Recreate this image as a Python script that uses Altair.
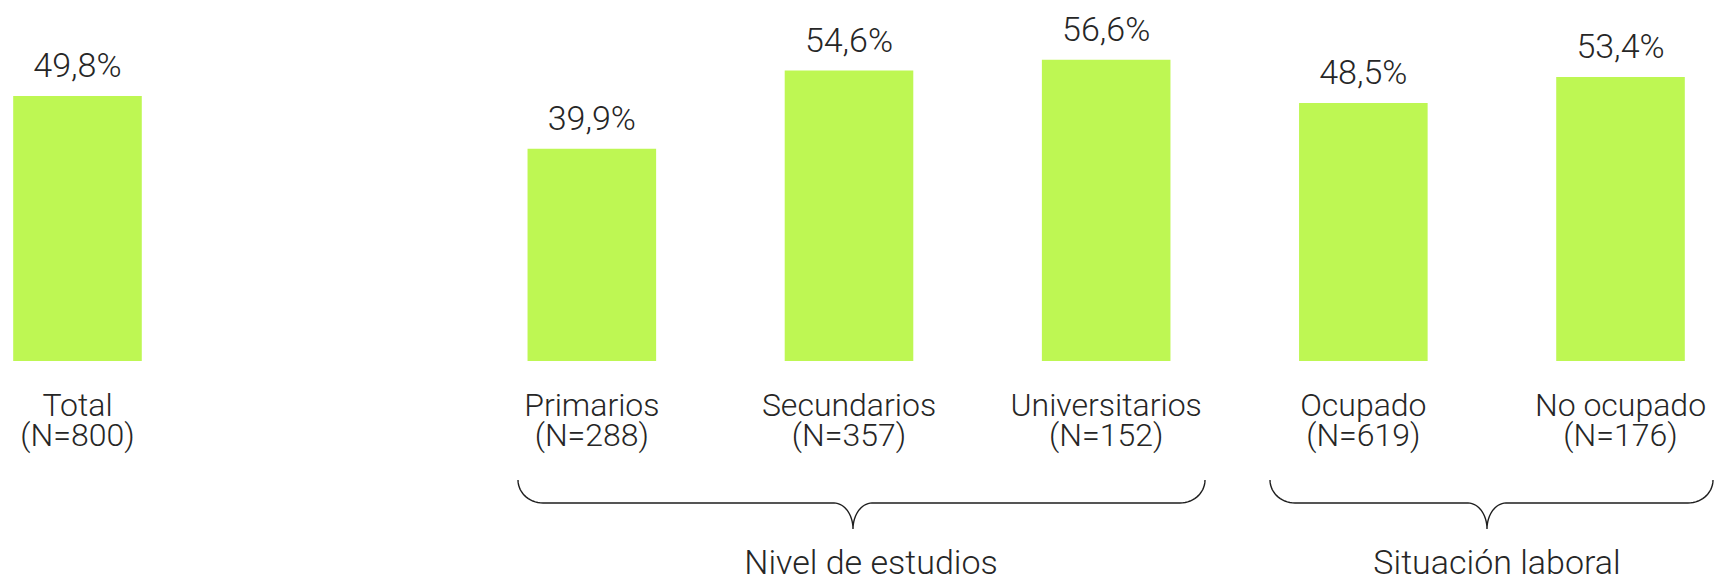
import altair as alt
import pandas as pd
import numpy as np

# ---------------- data ----------------
categories = ["Total", "Primarios", "Secundarios", "Universitarios", "Ocupado", "No ocupado"]
sample_sizes = [800, 288, 357, 152, 619, 176]
percentages = [49.8, 39.9, 54.6, 56.6, 48.5, 53.4]
slot_order = ["Total", "·", "Primarios", "Secundarios", "Universitarios", "Ocupado", "No ocupado"]
group_names = ["Nivel de estudios", "Situación laboral"]

# ---------------- layout ----------------
W, H = 1682, 353
Y_MAX = 66.35
PAD_INNER, PAD_OUTER = 0.5, 0.0202
FONT = "Roboto"
FW = 300
TXT = "#262626"
BAR = "#BEF753"
FS = 34
FS_CAT = 32

# brace layout (plot pixels): x_start, x_end, x_tip, title_x
brace_layout = [(510, 1197, 845, 863), (1262, 1705, 1479, 1489)]
Y_TOP, Y_MID, Y_TIP, Y_TITLE = 472, 495, 521, 566
RX_END, RY_END, RX_TIP = 25, 23, 19

df = pd.DataFrame({
    "cat": categories,
    "pct": percentages,
    "label": [f"{c}\n(N={n})" for c, n in zip(categories, sample_sizes)],
    "value_txt": [f"{v:.1f}".replace(".", ",") + "%" for v in percentages],
})


def arc(cx, cy, rx, ry, t0, t1, n=16):
    t = np.linspace(t0, t1, n)
    return list(zip(cx + rx * np.cos(t), cy + ry * np.sin(t)))


rows = []
for g, (x0, x1, xt, _) in zip(group_names, brace_layout):
    ry_tip = Y_TIP - Y_MID
    pts = []
    pts += arc(x0 + RX_END, Y_TOP, RX_END, RY_END, np.pi, np.pi / 2)
    pts += arc(xt - RX_TIP, Y_TIP, RX_TIP, ry_tip, -np.pi / 2, 0)
    pts += arc(xt + RX_TIP, Y_TIP, RX_TIP, ry_tip, np.pi, 1.5 * np.pi)
    pts += arc(x1 - RX_END, Y_TOP, RX_END, RY_END, np.pi / 2, 0)
    for k, (px, py) in enumerate(pts):
        rows.append({"group": g, "seq": k, "px": float(px), "py": float(py)})
brace_df = pd.DataFrame(rows)
title_df = pd.DataFrame({"group": group_names,
                         "px": [b[3] for b in brace_layout],
                         "py": [Y_TITLE] * len(group_names)})

x_enc = alt.X("cat:N", sort=slot_order,
              scale=alt.Scale(domain=slot_order, paddingInner=PAD_INNER, paddingOuter=PAD_OUTER),
              axis=None)
y_scale = alt.Scale(domain=[0, Y_MAX], zero=False, nice=False)

base = alt.Chart(df)
bars = base.mark_bar(color=BAR).encode(
    x=x_enc,
    y=alt.Y("pct:Q", scale=y_scale, axis=None),
    y2=alt.datum(0),
)
values = base.mark_text(font=FONT, fontWeight=FW, fontSize=FS, color=TXT,
                        baseline="alphabetic", dy=-19).encode(
    x=x_enc,
    y=alt.Y("pct:Q", scale=y_scale, axis=None),
    text="value_txt:N",
)
cats = base.mark_text(font=FONT, fontWeight=FW, fontSize=FS_CAT, color=TXT, baseline="alphabetic",
                      lineBreak="\n", lineHeight=30, dy=55).encode(
    x=x_enc,
    y=alt.Y("zero:Q", scale=y_scale, axis=None),
    text="label:N",
).transform_calculate(zero="0")

main = alt.layer(bars, values, cats)

px_scale = alt.Scale(domain=[0, W], zero=False, nice=False)
py_scale = alt.Scale(domain=[0, H], zero=False, nice=False, reverse=True)

braces = alt.Chart(brace_df).mark_line(color="#1e1e1e", strokeWidth=1.4).encode(
    x=alt.X("px:Q", scale=px_scale, axis=None),
    y=alt.Y("py:Q", scale=py_scale, axis=None),
    detail="group:N",
    order="seq:Q",
)
titles = alt.Chart(title_df).mark_text(font=FONT, fontWeight=FW, fontSize=FS, color=TXT,
                                       baseline="alphabetic").encode(
    x=alt.X("px:Q", scale=px_scale, axis=None),
    y=alt.Y("py:Q", scale=py_scale, axis=None),
    text="group:N",
)
annot = alt.layer(braces, titles)

chart = alt.layer(main, annot).resolve_scale(x="independent", y="independent").properties(
    width=W, height=H,
    autosize=alt.AutoSizeParams(type="none"),
    padding={"left": 0, "top": 0, "right": 26, "bottom": 218},
).configure_view(stroke=None)

chart.save("out.html", embed_options={"renderer": "svg", "actions": False})
